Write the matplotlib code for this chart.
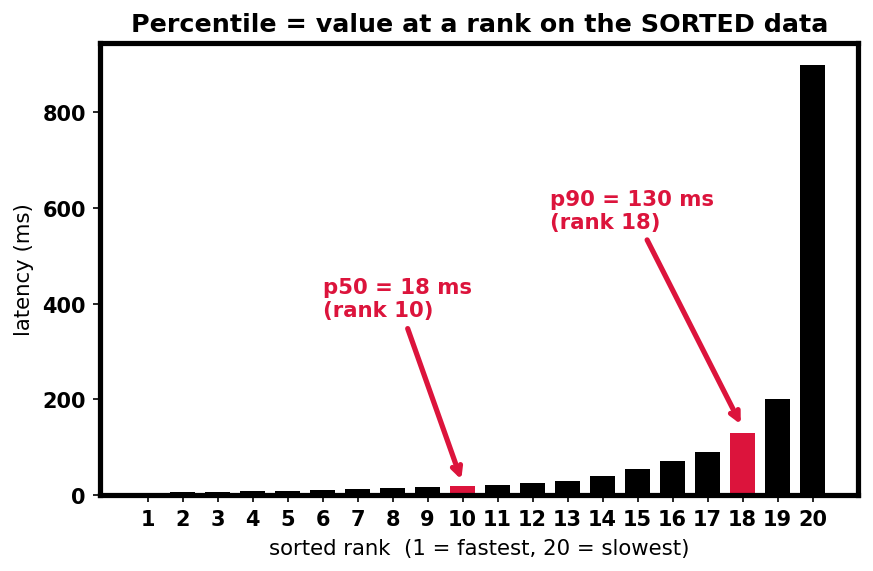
import matplotlib
matplotlib.use("Agg")
import matplotlib.pyplot as plt

# datos ordenados (ms)
ranks = list(range(1, 21))
latency = [5, 6, 7, 8, 9, 10, 12, 14, 16, 18, 20, 24, 30, 40, 55, 70, 90, 130, 200, 900]
highlight = [10, 18]
red = "crimson"

fig, ax = plt.subplots(figsize=(5.82, 3.813), dpi=150)

colors = [red if r in highlight else "black" for r in ranks]
ax.bar(ranks, latency, width=0.7, color=colors)

ax.annotate("p50 = 18 ms\n(rank 10)", xy=(10, 24), xytext=(6, 410),
            color=red, fontweight="bold", fontsize=10.2, va="center", ha="left",
            arrowprops=dict(arrowstyle="->", color=red, lw=2.5))
ax.annotate("p90 = 130 ms\n(rank 18)", xy=(18, 140), xytext=(12.5, 595),
            color=red, fontweight="bold", fontsize=10.2, va="center", ha="left",
            arrowprops=dict(arrowstyle="->", color=red, lw=2.5))

ax.set_xlim(-0.35, 21.3)
ax.set_ylim(0, 945)
ax.set_xticks(ranks)
ax.set_xticklabels([str(r) for r in ranks])
ax.set_yticks([0, 200, 400, 600, 800])
for lbl in ax.get_xticklabels() + ax.get_yticklabels():
    lbl.set_fontweight("bold")
    lbl.set_fontsize(10)
for sp in ax.spines.values():
    sp.set_linewidth(2.5)

ax.set_xlabel("sorted rank  (1 = fastest, 20 = slowest)", fontsize=10.2)
ax.set_ylabel("latency (ms)", fontsize=10.2)
ax.set_title("Percentile = value at a rank on the SORTED data", fontweight="bold", fontsize=12.2)

fig.subplots_adjust(left=0.115, right=0.983, top=0.923, bottom=0.133)
fig.savefig("out.png", dpi=150)
